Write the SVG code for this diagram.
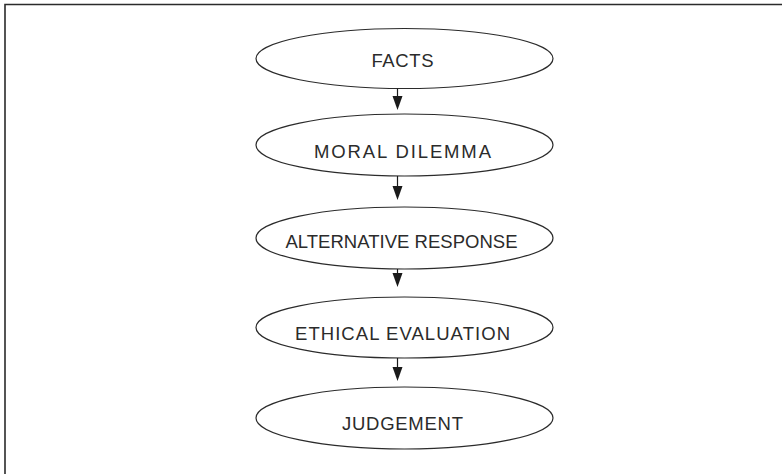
<svg xmlns="http://www.w3.org/2000/svg" width="782" height="474" viewBox="0 0 782 474">
<style>
.node ellipse{fill:#fff;stroke:#2b2b2b;stroke-width:1.2}
.node text{font-family:"Liberation Sans",Arial,sans-serif;font-size:18.5px;fill:#2b2b2b;text-anchor:middle}
.conn line{stroke:#1a1a1a;stroke-width:1.2}
.conn path{fill:#1a1a1a}
</style>
<rect width="782" height="474" fill="#fff"/>
<path d="M5,474 V4.5 H782" fill="none" stroke="#2b2b2b" stroke-width="1.6"/>
<g id="n1" class="node"><ellipse cx="404.5" cy="58.5" rx="148.5" ry="30"/><text x="402.5" y="66.5" textLength="62">FACTS</text></g>
<g id="n2" class="node"><ellipse cx="404.5" cy="145" rx="148.5" ry="31"/><text x="402.5" y="158" textLength="177">MORAL DILEMMA</text></g>
<g id="n3" class="node"><ellipse cx="404.5" cy="238" rx="148.5" ry="31"/><text x="401.5" y="248" textLength="232">ALTERNATIVE RESPONSE</text></g>
<g id="n4" class="node"><ellipse cx="404.5" cy="327.5" rx="148.5" ry="30.5"/><text x="402.5" y="340" textLength="215">ETHICAL EVALUATION</text></g>
<g id="n5" class="node"><ellipse cx="404.5" cy="418" rx="148.5" ry="31"/><text x="402.5" y="430" textLength="121">JUDGEMENT</text></g>
<g id="connectors" class="conn">
<line x1="397.5" y1="88.5" x2="397.5" y2="97"/><path d="M392.5,96 H402.5 L397.5,110 Z"/>
<line x1="397.5" y1="176" x2="397.5" y2="187"/><path d="M392.5,186 H402.5 L397.5,200 Z"/>
<line x1="397.5" y1="269" x2="397.5" y2="274"/><path d="M392.5,273 H402.5 L397.5,287 Z"/>
<line x1="397.5" y1="358" x2="397.5" y2="368"/><path d="M392.5,367 H402.5 L397.5,381 Z"/>
</g>
</svg>
